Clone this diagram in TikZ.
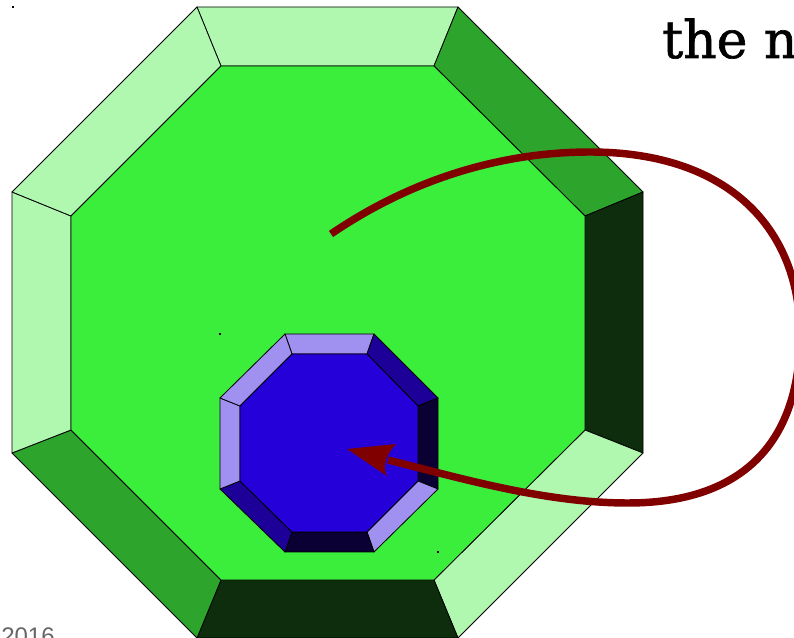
\documentclass[tikz,border=0pt]{standalone}
\usepackage{fontspec}
\setmainfont{DejaVu Serif}
\newfontfamily\titlefont[FakeBold=1.2]{DejaVu Serif}
\newfontfamily\labelfont{Liberation Sans}
\definecolor{gmain}{HTML}{3CEE3C}
\definecolor{glight}{HTML}{B0F8B0}
\definecolor{gmid}{HTML}{2DA52D}
\definecolor{gdark}{HTML}{0D2D0D}
\definecolor{bmain}{HTML}{2600D8}
\definecolor{blight}{HTML}{A090F0}
\definecolor{bmid}{HTML}{1C0098}
\definecolor{bdark}{HTML}{0A0033}
\definecolor{arrowred}{HTML}{800000}
\tikzset{facet/.style={draw=black,line width=0.6pt,line join=round},
 speck/.style={fill=black,inner sep=0pt,minimum size=1.2pt,shape=rectangle},
 curveline/.style={draw=arrowred,line width=5.6pt}}
\begin{document}
\begin{tikzpicture}[x=0.75pt,y=-0.75pt]
\useasboundingbox (0,0) rectangle (794,638);
\clip (0,0) rectangle (794,638);
% outer octagon
\path[facet,fill=glight] (197,7)--(458,7)--(434,66)--(221,66)--cycle;
\path[facet,fill=gmid] (458,7)--(643,192)--(585,216)--(434,66)--cycle;
\path[facet,fill=gdark] (643,192)--(643,453)--(585,430)--(585,216)--cycle;
\path[facet,fill=glight] (643,453)--(458,638)--(434,580)--(585,430)--cycle;
\path[facet,fill=gdark] (458,638)--(197,638)--(221,580)--(434,580)--cycle;
\path[facet,fill=gmid] (197,638)--(12,453)--(71,430)--(221,580)--cycle;
\path[facet,fill=glight] (12,453)--(12,192)--(71,216)--(71,430)--cycle;
\path[facet,fill=glight] (12,192)--(197,7)--(221,66)--(71,216)--cycle;
\path[facet,fill=gmain] (221,66)--(434,66)--(585,216)--(585,430)--(434,580)--(221,580)--(71,430)--(71,216)--cycle;
% inner octagon
\path[facet,fill=blight] (285,334)--(374,334)--(367,354)--(292,354)--cycle;
\path[facet,fill=bmid] (374,334)--(438,398)--(418,406)--(367,354)--cycle;
\path[facet,fill=bdark] (438,398)--(438,489)--(418,481)--(418,406)--cycle;
\path[facet,fill=blight] (438,489)--(374,552)--(367,532)--(418,481)--cycle;
\path[facet,fill=bdark] (374,552)--(285,552)--(292,532)--(367,532)--cycle;
\path[facet,fill=bmid] (285,552)--(220,489)--(240,481)--(292,532)--cycle;
\path[facet,fill=blight] (220,489)--(220,398)--(240,406)--(240,481)--cycle;
\path[facet,fill=blight] (220,398)--(285,334)--(292,354)--(240,406)--cycle;
\path[facet,fill=bmain] (292,354)--(367,354)--(418,406)--(418,481)--(367,532)--(292,532)--(240,481)--(240,406)--cycle;
% specks
\node[speck] (s1) at (13,7) {};
\node[speck] (s2) at (220,334) {};
\node[speck] (s3) at (438,552) {};
% arrow
\coordinate (st) at (331,234);
\coordinate (en) at (388,460);
\draw[curveline] (st) .. controls (410,180) and (500,152) .. (590,152)
  .. controls (730,152) and (800,230) .. (800,335)
  .. controls (800,440) and (745,503) .. (628,503)
  .. controls (545,503) and (460,478) .. (en);
\fill[arrowred] (347,449) -- (396,444) .. controls (388,452) and (381,466) .. (387,476) -- cycle;
% text
\node[anchor=base west,inner sep=0pt,font=\titlefont\fontsize{39pt}{39pt}\selectfont] (title) at (662,58) {the n};
\node[anchor=base west,inner sep=0pt,font=\labelfont\fontsize{18pt}{18pt}\selectfont,text=black!60] (year) at (1,644) {2016};
\end{tikzpicture}
\end{document}
